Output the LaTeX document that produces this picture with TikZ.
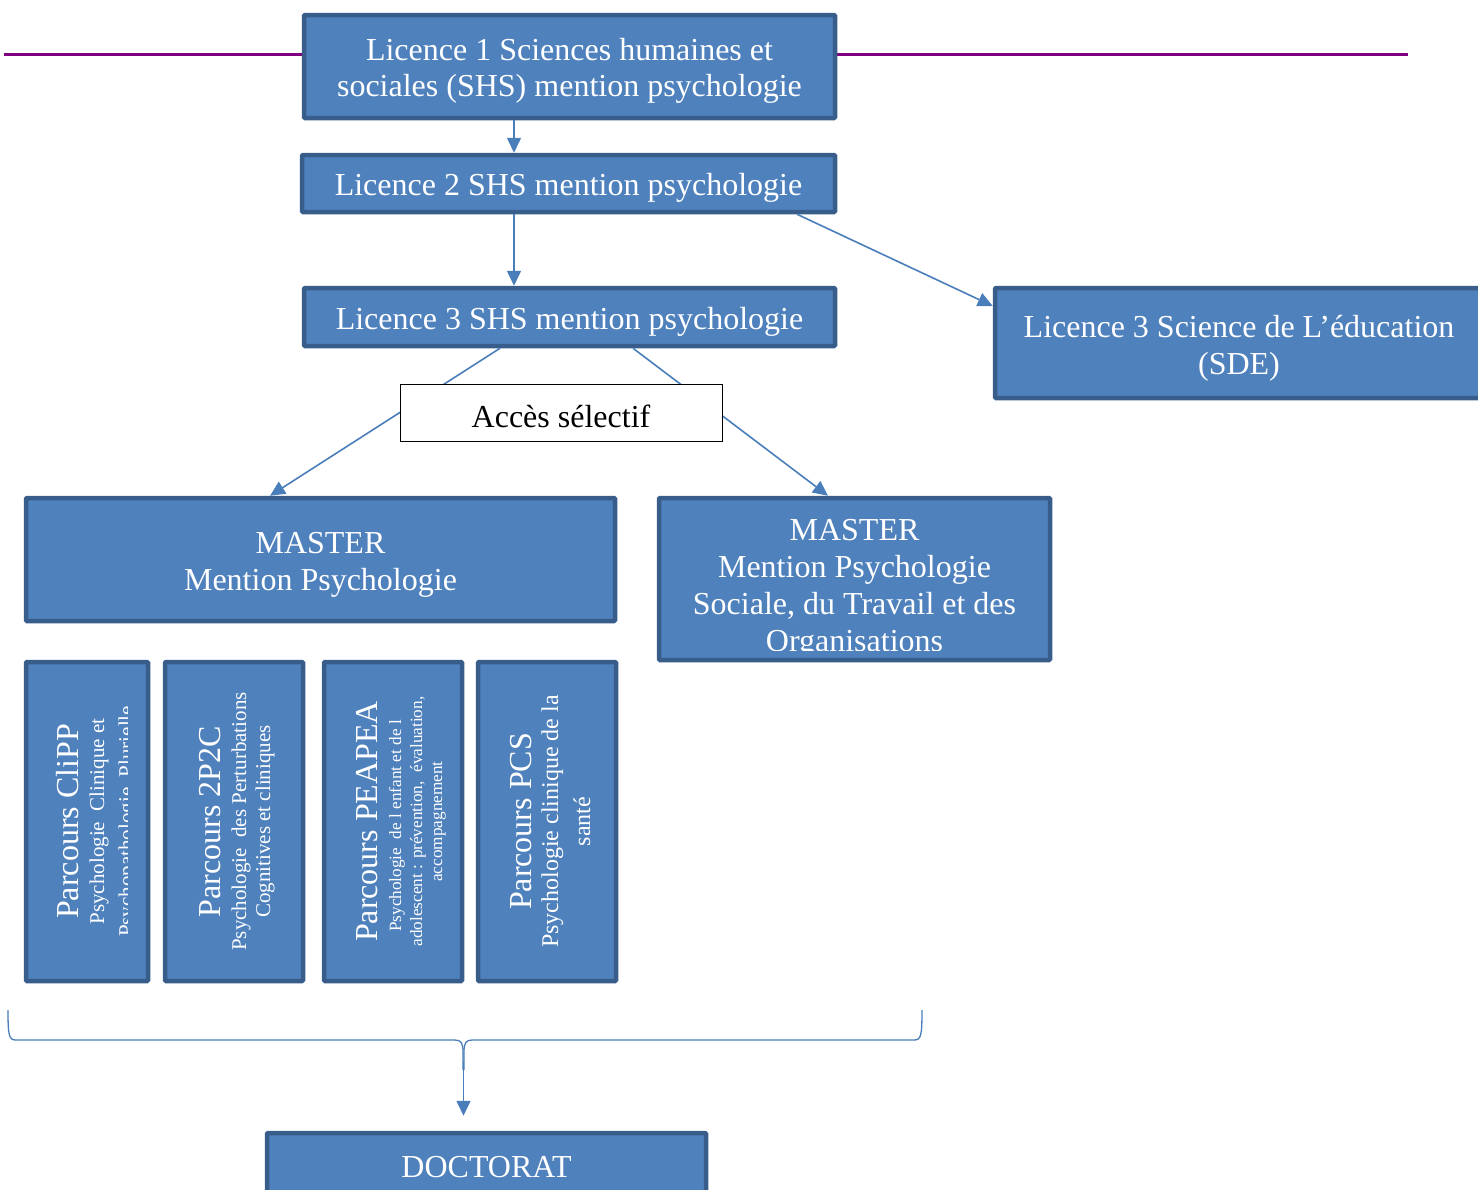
\documentclass[tikz,border=0pt]{standalone}
\usepackage{fontspec}
\setmainfont{Liberation Serif}
\usetikzlibrary{arrows.meta}
\definecolor{boxfill}{HTML}{4F81BD}
\definecolor{boxline}{HTML}{385D8A}
\definecolor{conn}{HTML}{4A7EBB}
\definecolor{purp}{HTML}{800080}
\newcommand{\fbig}{\fontsize{32}{37}\selectfont}
\begin{document}
\begin{tikzpicture}[x=1pt,y=-1pt,
  bluebox/.style={draw=boxline, line width=4.5pt, fill=boxfill, inner sep=0pt, rounded corners=1pt},
  boxtext/.style={text=white, font=\fbig, align=center, inner sep=0pt},
  whitetext/.style={text=white, inner sep=0pt, rotate=90, anchor=base},
  conn/.style={draw=conn, line width=1.6pt, -{Triangle[length=15pt,width=14pt]}},
  brace/.style={draw=conn, line width=1.3pt}
]
\useasboundingbox (0,0) rectangle (1478,1189);

% purple rule
\coordinate (pl) at (4,54);
\coordinate (pr) at (1408,54);
\draw[purp, line width=3pt] (pl) -- (pr);

% licence boxes
\node[bluebox, minimum width=531pt, minimum height=103pt] (l1) at (569.5,66.5) {};
\node[boxtext, font=\fontsize{32}{36}\selectfont] (l1t) at (569.5,71) {Licence 1 Sciences humaines et\\sociales (SHS) mention psychologie};
\node[bluebox, minimum width=533pt, minimum height=57pt] (l2) at (568.5,183.5) {};
\node[boxtext] (l2t) at (568.5,187.5) {Licence 2 SHS mention psychologie};
\node[bluebox, minimum width=531pt, minimum height=58pt] (l3) at (569.5,317) {};
\node[boxtext] (l3t) at (569.5,322) {Licence 3 SHS mention psychologie};
\node[bluebox, minimum width=490pt, minimum height=110pt] (sde) at (1240,343) {};
\node[boxtext] (sdet) at (1239,348) {Licence 3 Science de L’éducation\\(SDE)};

% masters
\node[bluebox, minimum width=589pt, minimum height=123pt] (m1) at (320.5,559.5) {};
\node[boxtext] (m1t) at (320.5,565) {MASTER\\Mention Psychologie};
\node[bluebox, minimum width=391pt, minimum height=162pt] (m2) at (854.5,579) {};
\begin{scope}
\clip (659,498) rectangle (1050,650);
\node[boxtext] (m2t) at (854.5,589) {MASTER\\Mention Psychologie\\Sociale, du Travail et des\\Organisations};
\end{scope}

% parcours boxes
\node[bluebox, minimum width=122pt, minimum height=319pt] (p1) at (87,821.5) {};
\node[bluebox, minimum width=138pt, minimum height=319pt] (p2) at (234,821.5) {};
\node[bluebox, minimum width=138pt, minimum height=319pt] (p3) at (393,821.5) {};
\node[bluebox, minimum width=138pt, minimum height=319pt] (p4) at (547,821.5) {};

\begin{scope}
\clip (28,664) rectangle (127.5,979);
\node[whitetext, font=\fontsize{32}{37}\selectfont] (p1a) at (78,821.5) {Parcours CliPP};
\node[whitetext, font=\fontsize{21}{24}\selectfont] (p1b) at (104,821.5) {Psychologie\ \ Clinique et};
\node[whitetext, font=\fontsize{21}{24}\selectfont] (p1c) at (133,821.5) {Psychopathologie\ \ Plurielle};
\end{scope}

\node[whitetext, font=\fontsize{32}{37}\selectfont] (p2a) at (220,821.5) {Parcours 2P2C};
\node[whitetext, font=\fontsize{21}{24}\selectfont] (p2b) at (246,821.5) {Psychologie\ \ des Perturbations};
\node[whitetext, font=\fontsize{21}{24}\selectfont] (p2c) at (270,821.5) {Cognitives et cliniques};

\node[whitetext, font=\fontsize{32}{37}\selectfont] (p3a) at (377,821.5) {Parcours PEAPEA};
\node[whitetext, font=\fontsize{17.2}{20}\selectfont] (p3b) at (401,826) {Psychologie\ \ de l enfant et de l};
\node[whitetext, font=\fontsize{17.2}{20}\selectfont] (p3c) at (422,821.5) {adolescent : prévention,\ \ évaluation,};
\node[whitetext, font=\fontsize{17.2}{20}\selectfont] (p3d) at (442,821.5) {accompagnement};

\node[whitetext, font=\fontsize{32}{37}\selectfont] (p4a) at (531,821.5) {Parcours PCS};
\node[whitetext, font=\fontsize{24}{28}\selectfont] (p4b) at (558,821.5) {Psychologie clinique de la};
\node[whitetext, font=\fontsize{24}{28}\selectfont] (p4c) at (590,821.5) {santé};

% doctorat
\node[bluebox, minimum width=439pt, minimum height=66pt] (doc) at (486.5,1166) {};
\node[boxtext] (doct) at (486.5,1167) {DOCTORAT};

% connectors
\draw[conn] (l1.south -| 514,0) -- (l2.north -| 514,0);
\draw[conn] (l2.south -| 514,0) -- (l3.north -| 514,0);
\draw[conn] (l2.south -| 797,0) -- (sde.west |- 0,306);
\draw[conn] (l3.south -| 500,0) -- (m1.north -| 270,0);
\draw[conn] (l3.south -| 633,0) -- (m2.north -| 828,0);

% selective access box (on top of lines)
\node[draw=black, line width=1pt, fill=white, font=\fbig, minimum width=322pt, minimum height=57pt, inner sep=0pt] (acc) at (561,412.5) {};
\node[font=\fbig, inner sep=0pt] (acct) at (561,416) {Accès sélectif};

% brace
\coordinate (bl) at (8,1010);
\coordinate (br) at (922,1010);
\coordinate (btip) at (463.5,1062);
\draw[brace] (bl) .. controls (8,1036) and (9,1040) .. (16,1040) -- (455,1040)
  .. controls (461,1040) and (463,1043) .. (463,1052) -- (463,1070);
\draw[brace] (br) .. controls (922,1036) and (921,1040) .. (914,1040) -- (472,1040)
  .. controls (466,1040) and (464,1043) .. (464,1052) -- (464,1070);
\draw[conn] (btip) -- ([yshift=15pt]doc.north -| btip);
\end{tikzpicture}
\end{document}
